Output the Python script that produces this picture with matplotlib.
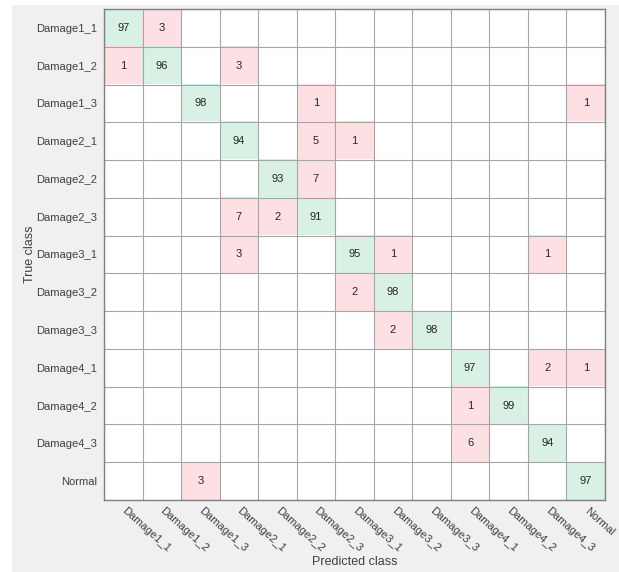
import numpy as np
import matplotlib
matplotlib.use("Agg")
import matplotlib.pyplot as plt
from matplotlib.patches import Rectangle
from matplotlib.colors import to_rgb

classes = ["Damage1_1", "Damage1_2", "Damage1_3", "Damage2_1", "Damage2_2", "Damage2_3",
           "Damage3_1", "Damage3_2", "Damage3_3", "Damage4_1", "Damage4_2", "Damage4_3", "Normal"]

counts = [
    [97, 3, 0, 0, 0, 0, 0, 0, 0, 0, 0, 0, 0],
    [1, 96, 0, 3, 0, 0, 0, 0, 0, 0, 0, 0, 0],
    [0, 0, 98, 0, 0, 1, 0, 0, 0, 0, 0, 0, 1],
    [0, 0, 0, 94, 0, 5, 1, 0, 0, 0, 0, 0, 0],
    [0, 0, 0, 0, 93, 7, 0, 0, 0, 0, 0, 0, 0],
    [0, 0, 0, 7, 2, 91, 0, 0, 0, 0, 0, 0, 0],
    [0, 0, 0, 3, 0, 0, 95, 1, 0, 0, 0, 1, 0],
    [0, 0, 0, 0, 0, 0, 2, 98, 0, 0, 0, 0, 0],
    [0, 0, 0, 0, 0, 0, 0, 2, 98, 0, 0, 0, 0],
    [0, 0, 0, 0, 0, 0, 0, 0, 0, 97, 0, 2, 1],
    [0, 0, 0, 0, 0, 0, 0, 0, 0, 1, 99, 0, 0],
    [0, 0, 0, 0, 0, 0, 0, 0, 0, 6, 0, 94, 0],
    [0, 0, 3, 0, 0, 0, 0, 0, 0, 0, 0, 0, 97],
]

plt.rcParams['font.family'] = ['Liberation Sans', 'DejaVu Sans']

cm = np.array(counts)
n = len(classes)
green = np.array(to_rgb("#D8F1E4"))
red = np.array(to_rgb("#FDE0E3"))
white = np.array([1.0, 1.0, 1.0])
img = np.ones((n, n, 3))
for i in range(n):
    for j in range(n):
        if cm[i, j] == 0:
            img[i, j] = white
        elif i == j:
            img[i, j] = green
        else:
            img[i, j] = red

fig = plt.figure(figsize=(6.19, 5.72), dpi=100)
fig.patch.set_facecolor("white")
fig.patches.append(Rectangle((12 / 619, 0), 1 - 12 / 619, 1 - 5 / 572,
                             transform=fig.transFigure, facecolor="#F0F0F0",
                             edgecolor="none", zorder=-10))

ax = fig.add_axes([104 / 619, 72 / 572, 501 / 619, 491 / 572])
ax.imshow(img, aspect="auto", interpolation="nearest", extent=(-0.5, n - 0.5, n - 0.5, -0.5))

for i in range(n):
    for j in range(n):
        if cm[i, j] != 0:
            ax.text(j, i, str(cm[i, j]), ha="center", va="center", fontsize=8, color="#262626")

ax.set_xticks(np.arange(n))
ax.set_yticks(np.arange(n))
ax.set_xticks(np.arange(-0.5, n, 1), minor=True)
ax.set_yticks(np.arange(-0.5, n, 1), minor=True)
ax.grid(which="minor", color="#A6A6A6", linewidth=0.8)
ax.tick_params(which="both", length=0)
ax.set_yticklabels(classes, fontsize=8, color="#404040")
ax.set_xticklabels(classes, fontsize=8, color="#404040", rotation=-42,
                   ha="left", va="center", rotation_mode="anchor")
ax.tick_params(axis="x", pad=7)
ax.tick_params(axis="y", pad=5)
for s in ax.spines.values():
    s.set_color("#808080")
    s.set_linewidth(1.0)

ax.set_xlabel("Predicted class", fontsize=9, color="#404040", va="center")
ax.xaxis.set_label_coords(0.5, -62 / 491)
ax.set_ylabel("True class", fontsize=9, color="#404040", va="center")
ax.yaxis.set_label_coords(-74 / 501, 0.5)

fig.savefig("out.png", dpi=100, facecolor=fig.get_facecolor())
